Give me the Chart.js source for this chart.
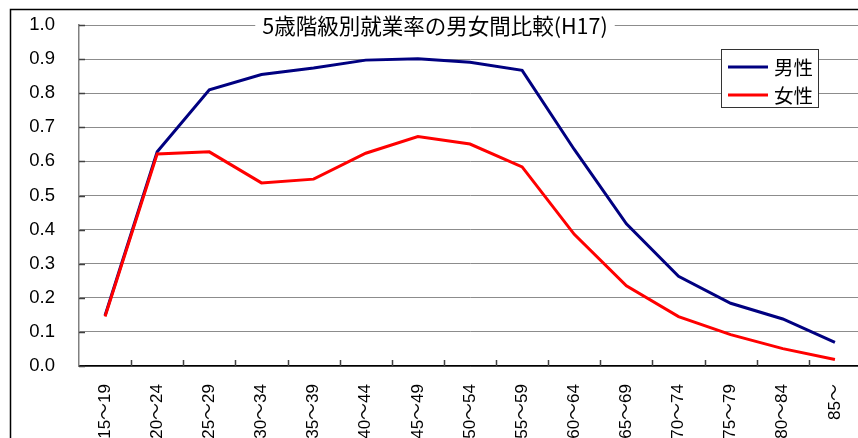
<!DOCTYPE html>
<html><head><meta charset="utf-8">
<script src="https://cdn.jsdelivr.net/npm/chart.js@4.4.0/dist/chart.umd.min.js"></script>
<style>
html,body{margin:0;padding:0;background:#fff;overflow:hidden;width:858px;height:438px}
#wrap{position:absolute;left:0;top:0;width:866px;height:438px}
</style></head><body>
<div id="wrap"><canvas id="c" width="866" height="438"></canvas></div>
<script>
const categories = ["15～19","20～24","25～29","30～34","35～39","40～44","45～49","50～54","55～59","60～64","65～69","70～74","75～79","80～84","85～"];
const maleRate   = [0.148,0.628,0.810,0.855,0.874,0.897,0.901,0.891,0.867,0.635,0.417,0.263,0.184,0.138,0.069];
const femaleRate = [0.145,0.622,0.628,0.537,0.548,0.624,0.673,0.651,0.584,0.386,0.235,0.145,0.092,0.051,0.019];
const yTicks = [0,0.1,0.2,0.3,0.4,0.5,0.6,0.7,0.8,0.9,1.0];
const seriesNames = ["男性","女性"];
const titleText = "5歳階級別就業率の男女間比較(H17)";

const LATIN = "'Liberation Sans', Arial, 'Noto Sans CJK JP', sans-serif";
const JP = "'Noto Sans CJK JP', sans-serif";
const MALE_COLOR = "#000080", FEMALE_COLOR = "#ff0000";

const decor = {
  id: 'decor',
  beforeDraw(chart) {
    const ctx = chart.ctx;
    ctx.save(); ctx.fillStyle = '#fff'; ctx.fillRect(0, 0, chart.width, chart.height); ctx.restore();
  },
  afterDraw(chart) {
    const {ctx, chartArea: a, scales: {x, y}} = chart;
    ctx.save();
    // inside tick marks
    ctx.strokeStyle = '#404040'; ctx.lineWidth = 1.5;
    ctx.beginPath();
    yTicks.forEach(v => {
      const py = Math.round(y.getPixelForValue(v)) + 0.5;
      ctx.moveTo(a.left, py); ctx.lineTo(a.left + 6, py);
    });
    for (let i = 0; i < categories.length - 1; i++) {
      const px = Math.round((x.getPixelForValue(i) + x.getPixelForValue(i + 1)) / 2) + 0.5;
      ctx.moveTo(px, a.bottom); ctx.lineTo(px, a.bottom - 6);
    }
    ctx.stroke();

    // title with white background over the top gridline
    const ty = y.getPixelForValue(1.0);
    ctx.font = "21.5px " + JP;
    const tw = ctx.measureText(titleText).width;
    const tcx = 435;
    ctx.fillStyle = '#fff';
    ctx.fillRect(tcx - tw / 2 - 7, ty - 12, tw + 14, 24);
    ctx.fillStyle = '#000'; ctx.textAlign = 'center'; ctx.textBaseline = 'middle';
    ctx.fillText(titleText, tcx, ty + 1);

    // legend
    const lx = 721, ly = 49, lw = 97, lh = 58;
    ctx.fillStyle = '#fff'; ctx.fillRect(lx, ly, lw, lh);
    ctx.strokeStyle = '#333'; ctx.lineWidth = 1;
    ctx.strokeRect(lx + 0.5, ly + 0.5, lw, lh);
    const colors = [MALE_COLOR, FEMALE_COLOR];
    const rows = [67, 95];
    ctx.font = "19.5px " + JP; ctx.textAlign = 'left'; ctx.textBaseline = 'middle';
    seriesNames.forEach((n, i) => {
      ctx.strokeStyle = colors[i]; ctx.lineWidth = 3;
      ctx.beginPath(); ctx.moveTo(728, rows[i]); ctx.lineTo(768, rows[i]); ctx.stroke();
      ctx.fillStyle = '#000'; ctx.fillText(n, 774, rows[i] + 1);
    });

    // outer frame
    ctx.strokeStyle = '#000'; ctx.lineWidth = 1.5;
    ctx.strokeRect(10.5, 9.5, 2000, 2000);
    ctx.restore();
  }
};

new Chart(document.getElementById('c'), {
  type: 'line',
  data: {
    labels: categories,
    datasets: [
      {label: seriesNames[0], data: maleRate, borderColor: MALE_COLOR, backgroundColor: MALE_COLOR,
       borderWidth: 3, pointRadius: 0, tension: 0, fill: false, order: 1},
      {label: seriesNames[1], data: femaleRate, borderColor: FEMALE_COLOR, backgroundColor: FEMALE_COLOR,
       borderWidth: 3, pointRadius: 0, tension: 0, fill: false, order: 0}
    ]
  },
  options: {
    responsive: false, animation: false, devicePixelRatio: 1,
    layout: {padding: {top: 25, right: 5, bottom: 0, left: 0}},
    plugins: {legend: {display: false}, title: {display: false}, tooltip: {enabled: false}},
    scales: {
      x: {
        type: 'category', offset: true,
        grid: {display: false, drawTicks: false},
        border: {display: true, color: '#000', width: 1.5},
        ticks: {autoSkip: false, maxRotation: 90, minRotation: 90, padding: 18, color: '#000',
                font: {size: 17, family: LATIN}},
        afterFit: s => { s.height = 72; s.paddingLeft = 0; s.paddingRight = 0; s.paddingTop = 0; s.paddingBottom = 0; }
      },
      y: {
        min: 0, max: 1,
        afterBuildTicks: s => { s.ticks = yTicks.map(v => ({value: v})); },
        grid: {color: '#8c8c8c', lineWidth: 1, drawTicks: false},
        border: {display: true, color: '#808080', width: 1.5},
        ticks: {padding: 24, color: '#000', font: {size: 18.5, family: LATIN},
                callback: v => Number(v).toFixed(1)},
        afterFit: s => { s.width = 79; s.paddingTop = 0; s.paddingBottom = 0; s.paddingLeft = 0; s.paddingRight = 0; }
      }
    }
  },
  plugins: [decor]
});
</script>
</body></html>
